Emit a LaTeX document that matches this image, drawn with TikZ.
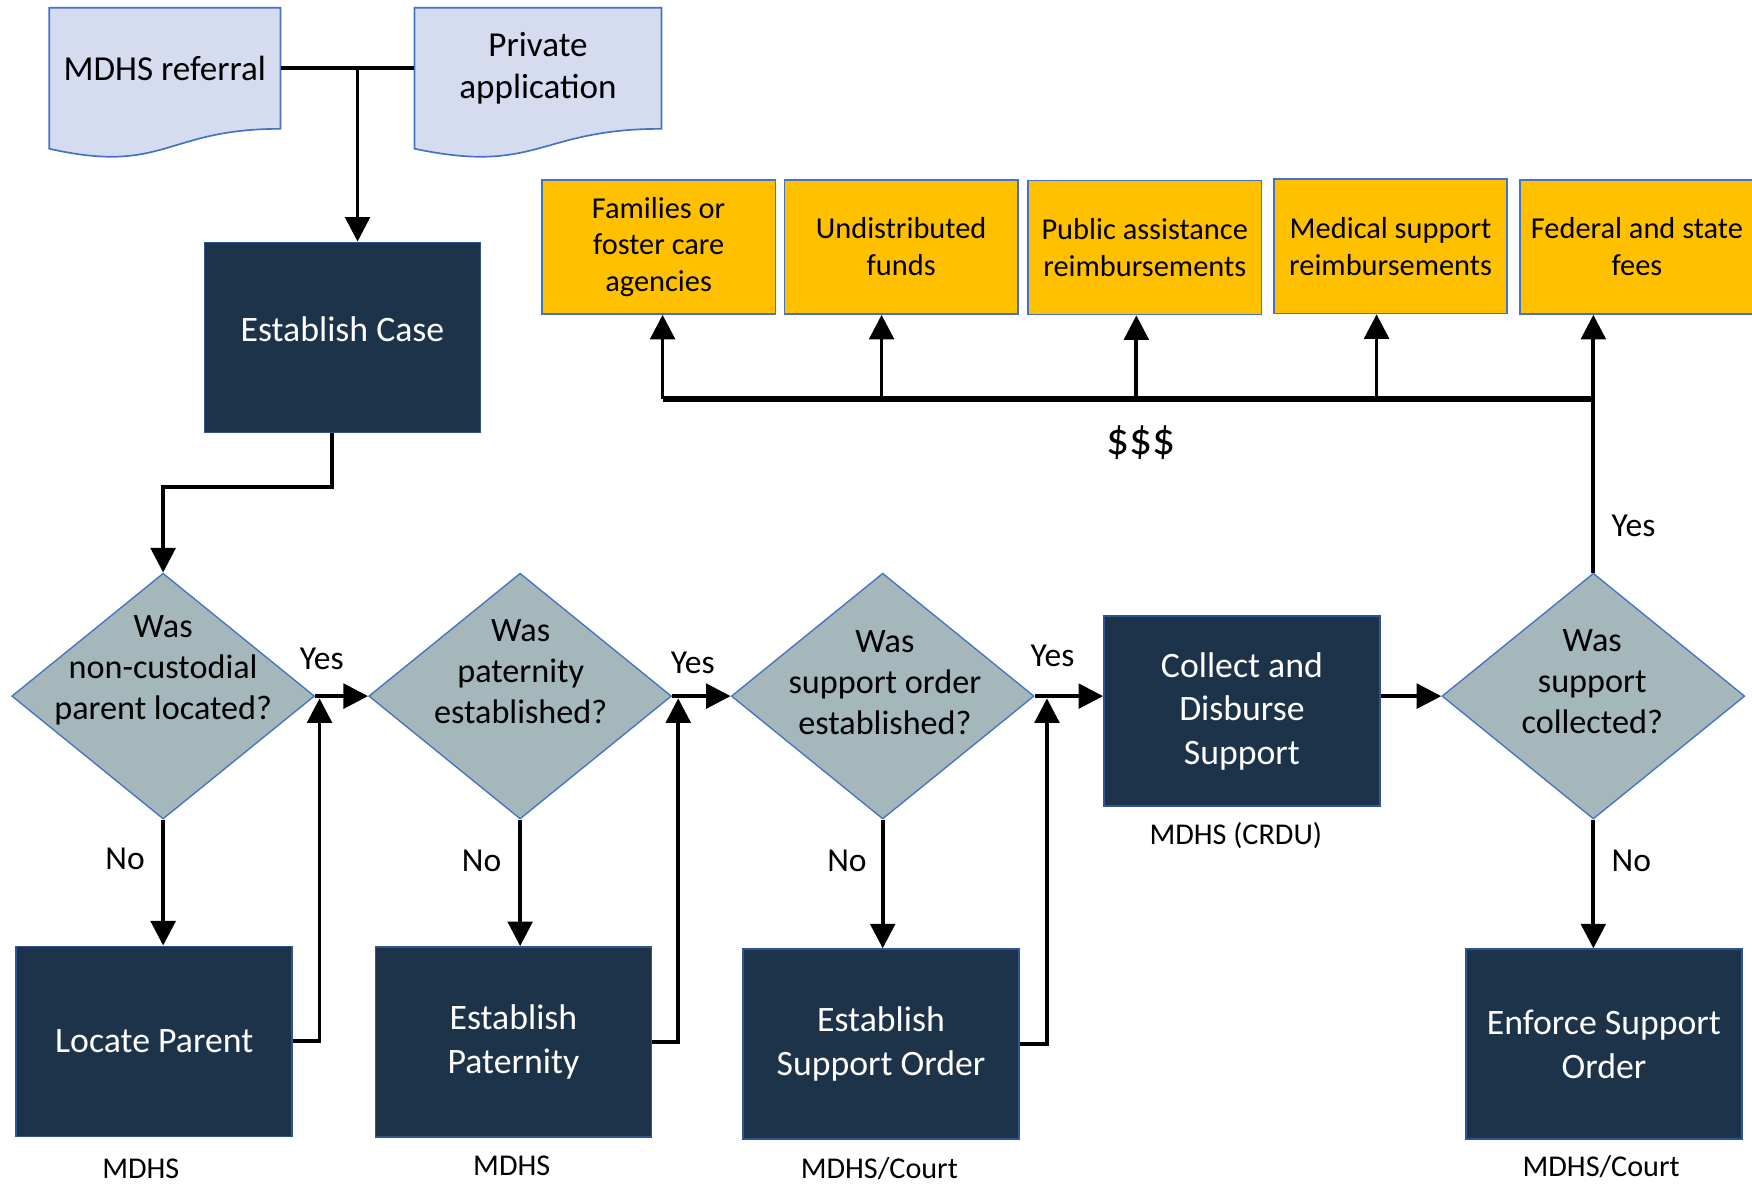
\documentclass[tikz,border=0pt]{standalone}
\usepackage{fontspec}
\setmainfont{Carlito}
\usetikzlibrary{arrows.meta,shapes.geometric,calc}
\definecolor{navy}{HTML}{1D334A}
\definecolor{boxblue}{HTML}{2F5597}
\definecolor{dblue}{HTML}{4472C4}
\definecolor{dgray}{HTML}{A4B7BB}
\definecolor{docfill}{HTML}{D6DCF0}
\definecolor{gold}{HTML}{FFC000}
\tikzset{
  procbox/.style={draw=boxblue, line width=0.75pt, fill=navy, text=white,
    font=\fontsize{16}{19.5}\selectfont, align=center,
    minimum width=123.5pt, minimum height=85pt, inner sep=0pt},
  paybox/.style={draw=dblue, line width=0.75pt, fill=gold,
    font=\fontsize{13.6}{16.5}\selectfont, align=center,
    minimum width=104.5pt, minimum height=60pt, inner sep=0pt},
  dshape/.style={diamond, draw=dblue, line width=0.6pt, fill=dgray,
    minimum width=135.5pt, minimum height=110pt, inner sep=0pt},
  dtext/.style={font=\fontsize{15.3}{18.5}\selectfont, align=center, inner sep=0pt},
  doc/.style={draw=dblue, line width=0.75pt, fill=docfill},
  doctext/.style={font=\fontsize{15.7}{19}\selectfont, align=center, inner sep=0pt},
  lbl/.style={font=\fontsize{15}{18}\selectfont, inner sep=0pt},
  captext/.style={font=\fontsize{13.5}{16}\selectfont, inner sep=0pt},
  conn/.style={line width=1.7pt},
  arr/.style={line width=1.7pt, -{Triangle[length=11pt,width=11pt]}},
  busline/.style={line width=2.4pt}
}
\begin{document}
\begin{tikzpicture}[x=0.5pt,y=-0.5pt]
\useasboundingbox (0,0) rectangle (1568,1059);

% documents
\draw[doc] (44,7) -- (251,7) -- (251,115.3) .. controls (147.5,115.3) and (147.5,156.5) .. (44,133.1) -- cycle;
\draw[doc] (371,7) -- (592,7) -- (592,115.3) .. controls (481.5,115.3) and (481.5,156.5) .. (371,133.1) -- cycle;
\node[doctext, minimum width=103.5pt, minimum height=54pt] (ref) at (147.5,61) {MDHS referral};
\node[doctext, minimum width=110.5pt, minimum height=54pt] (priv) at (481.5,61) {Private\\application};

% process boxes
\node[procbox] (ec) at (306.5,302) {\raisebox{3.5pt}[\height][\depth]{Establish Case}};
\node[procbox] (lp) at (138,932) {Locate Parent};
\node[procbox] (ep) at (459.5,932.5) {Establish\\Paternity};
\node[procbox] (eso) at (788.5,934.5) {Establish\\Support Order};
\node[procbox] (col) at (1111.5,636.5) {Collect and\\Disburse\\Support};
\node[procbox] (eno) at (1435.5,934.5) {Enforce Support\\Order};

% decisions
\node[dshape] (d1) at (146,623) {};
\node[dshape] (d2) at (465.5,623) {};
\node[dshape] (d3) at (790,623) {};
\node[dshape] (d4) at (1426,623) {};
\node[dtext] at (146,600) {Was\\non-custodial\\parent located?};
\node[dtext] at (466,601) {Was\\paternity\\established?};
\node[dtext] at (792,611) {Was\\support order\\established?};
\node[dtext] at (1425,610) {Was\\support\\collected?};

% payees
\node[paybox] (fam) at (589.5,221) {Families or\\foster care\\agencies};
\node[paybox] (und) at (806.5,221) {Undistributed\\funds};
\node[paybox] (pub) at (1024.5,221.5) {Public assistance\\reimbursements};
\node[paybox] (med) at (1244.5,220.5) {Medical support\\reimbursements};
\node[paybox] (fed) at (1465,221) {Federal and state\\fees};

% intake connectors
\coordinate (j) at (320,61);
\draw[conn] (ref.east) -- (priv.west);
\draw[arr] (j) -- (j |- ec.north);
\coordinate (e1) at (297,436);
\draw[arr] (e1 |- ec.south) -- (e1) -| (d1.north);

% yes flow
\draw[arr] (d1.east) -- (d2.west);
\draw[arr] (d2.east) -- (d3.west);
\draw[arr] (d3.east) -- (d3.east -| col.west);
\draw[arr] (col.east |- d4.west) -- (d4.west);
\node[lbl] at (288,590) {Yes};
\node[lbl] at (620,593) {Yes};
\node[lbl] at (942,587) {Yes};
\node[lbl] at (1462,471) {Yes};

% no flow
\draw[arr] (d1.south) -- (d1.south |- lp.north);
\draw[arr] (d2.south) -- (d2.south |- ep.north);
\draw[arr] (d3.south) -- (d3.south |- eso.north);
\draw[arr] (d4.south) -- (d4.south |- eno.north);
\node[lbl] at (112,769) {No};
\node[lbl] at (431,770) {No};
\node[lbl] at (758,770) {No};
\node[lbl] at (1460,770) {No};

% returns
\coordinate (r1) at (286,625);
\coordinate (r2) at (607,625);
\coordinate (r3) at (937,625);
\draw[arr] (lp.east) -| (r1);
\draw[arr] (ep.east) -| (r2);
\draw[arr] (eso.east) -| (r3);

% money distribution
\coordinate (b1) at (593,357);
\coordinate (b2) at (789,357);
\coordinate (b3) at (1017,357);
\coordinate (b4) at (1232,357);
\coordinate (b5) at (1426,357);
\draw[busline] (b1) -- (b5);
\draw[arr] (b1) -- (b1 |- fam.south);
\draw[arr] (b2) -- (b2 |- und.south);
\draw[arr] (b3) -- (b3 |- pub.south);
\draw[arr] (b4) -- (b4 |- med.south);
\draw[arr] (d4.north) -- (d4.north |- fed.south);
\node[font=\fontsize{20.4}{24}\selectfont, inner sep=0pt] at (1021,396) {\$\$\$};

% captions
\node[captext] at (126,1046) {MDHS};
\node[captext] at (458,1043) {MDHS};
\node[captext] at (787,1046) {MDHS/Court};
\node[captext] at (1106,748) {MDHS (CRDU)};
\node[captext] at (1433,1044) {MDHS/Court};
\end{tikzpicture}
\end{document}
